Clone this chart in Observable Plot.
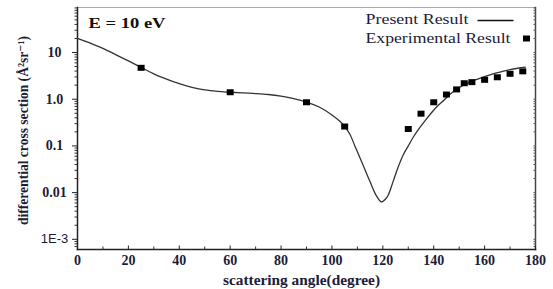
<!DOCTYPE html>
<html><head><meta charset="utf-8">
<script src="https://cdn.jsdelivr.net/npm/d3@7"></script>
<script src="https://cdn.jsdelivr.net/npm/@observablehq/plot@0.6"></script>
<style>body{margin:0;background:#fff}</style>
</head><body><div id="chart"></div>
<script>
// Present Result (theory curve)
const curveAngle = [0, 5, 10, 15, 20, 25, 30, 35, 40, 45, 50, 55, 60, 65, 70, 75, 80, 85, 90, 95, 100, 103, 105, 107, 109, 110.5, 112.3, 115, 117.5, 119.5, 121, 122.1, 124, 126, 128, 130, 132, 134.5, 137, 139.7, 142, 144, 146.3, 150, 153, 156, 159.3, 163, 166, 170, 173, 176];
const curveValue = [20, 15.8, 12.3, 9, 6.6, 4.8, 3.5, 2.7, 2.15, 1.8, 1.58, 1.47, 1.41, 1.36, 1.32, 1.26, 1.16, 1.03, 0.87, 0.68, 0.46, 0.34, 0.26, 0.18, 0.1, 0.065, 0.038, 0.017, 0.0085, 0.0063, 0.0072, 0.0088, 0.017, 0.035, 0.064, 0.1, 0.155, 0.245, 0.37, 0.56, 0.76, 0.95, 1.26, 1.78, 2.15, 2.55, 2.95, 3.45, 3.8, 4.3, 4.6, 4.85];
// Experimental Result
const expAngle = [25, 60, 90, 105, 130, 135, 140, 145, 149, 152, 155, 160, 165, 170, 175];
const expValue = [4.7, 1.41, 0.86, 0.26, 0.23, 0.49, 0.86, 1.26, 1.62, 2.2, 2.32, 2.6, 2.95, 3.5, 3.95];
// ticks and labels
const xTickValues = [0, 20, 40, 60, 80, 100, 120, 140, 160, 180];
const xMinorTicks = [10, 30, 50, 70, 90, 110, 130, 150, 170];
const yTickValues = [1e-3, 0.01, 0.1, 1, 10];
const yTickLabels = ["1E-3", "0.01", "0.1", "1.0", "10"];
const energyLabel = "E = 10 eV";
const legendLabels = ["Present Result", "Experimental Result"];
const xLabel = "scattering angle(degree)";
const yLabel = "differential cross section (Å²sr⁻¹)";

const yDomain = [6.05e-4, 92];
const yMinorTicks = [];
for (let e = -4; e <= 2; e++) for (let m = 2; m <= 9; m++) {
  const v = m * Math.pow(10, e);
  if (v >= yDomain[0] && v <= yDomain[1]) yMinorTicks.push(v);
}
const curveData = curveAngle.map((a, i) => ({a, v: curveValue[i]}));
const expData = expAngle.map((a, i) => ({a, v: expValue[i]}));

const ink = "#1c1c38";
const serif = "'Liberation Serif', 'DejaVu Serif', serif";
const lineSymbol = {draw(ctx) { ctx.moveTo(-18, 0); ctx.lineTo(18, 0); }};
const squareSymbol = {draw(ctx) { ctx.rect(-3.5, -3, 7, 6); }};
const blank = () => "";

const plot = Plot.plot({
  width: 553, height: 289,
  marginLeft: 77, marginRight: 18, marginTop: 7, marginBottom: 40,
  style: {fontFamily: serif, background: "#fff", color: ink, overflow: "visible"},
  x: {domain: [0, 180]},
  y: {type: "log", domain: yDomain},
  marks: [
    Plot.frame({anchor: "top", stroke: "#aaa", strokeWidth: 1}),
    Plot.frame({anchor: "right", stroke: "#444", strokeWidth: 1.5}),
    // y axis ticks
    Plot.axisY({ticks: yMinorTicks, tickSize: 2.5, tickFormat: blank, label: null, stroke: "#333"}),
    Plot.axisY({ticks: yTickValues, tickSize: 5, tickPadding: 18, textAnchor: "middle",
      tickFormat: (d) => yTickLabels[yTickValues.indexOf(d)], label: null,
      fontSize: 14, fontWeight: "bold", fill: ink, stroke: "#222"}),
    Plot.axisY({anchor: "right", ticks: yMinorTicks.concat(yTickValues), tickSize: -2.5, tickFormat: blank, label: null, stroke: "#555"}),
    // x axis ticks
    Plot.axisX({ticks: xMinorTicks, tickSize: -2.5, tickFormat: blank, label: null, stroke: "#333"}),
    Plot.axisX({ticks: xTickValues, tickSize: -3.5, tickFormat: blank, label: null, stroke: "#222"}),
    Plot.axisX({ticks: xTickValues, tickSize: 0, tickPadding: 6, label: null,
      fontSize: 14, fontWeight: "bold", fill: ink}),
    Plot.frame({anchor: "left", stroke: "#222", strokeWidth: 1.5}),
    Plot.frame({anchor: "bottom", stroke: "#222", strokeWidth: 1.5}),
    // data
    Plot.line(curveData, {x: "a", y: "v", stroke: "#333", strokeWidth: 1.3, curve: "catmull-rom"}),
    Plot.dot(expData, {x: "a", y: "v", symbol: squareSymbol, fill: "#000", stroke: "none"}),
    // annotations
    Plot.text([energyLabel], {frameAnchor: "top-left", dx: 11, dy: 16, textAnchor: "start", lineAnchor: "middle",
      fontSize: 15, fontWeight: "bold", fill: "#111"}),
    Plot.text([legendLabels[0]], {frameAnchor: "top-right", dx: -170, dy: 12, textAnchor: "start", lineAnchor: "middle",
      fontSize: 15, fill: ink}),
    Plot.text([legendLabels[1]], {frameAnchor: "top-right", dx: -170, dy: 31, textAnchor: "start", lineAnchor: "middle",
      fontSize: 15, fill: ink}),
    Plot.dot([0], {frameAnchor: "top-right", dx: -40, dy: 13, symbol: lineSymbol, stroke: "#111", strokeWidth: 1.3, fill: "none"}),
    Plot.dot([0], {frameAnchor: "top-right", dx: -9, dy: 31, symbol: squareSymbol, fill: "#000", stroke: "none"}),
    Plot.text([xLabel], {frameAnchor: "bottom", dx: -5, dy: 31, textAnchor: "middle", lineAnchor: "middle",
      fontSize: 14, fontWeight: "bold", fill: ink}),
    Plot.text([yLabel], {frameAnchor: "left", dx: -54, dy: 2, rotate: -90, textAnchor: "middle", lineAnchor: "middle",
      fontSize: 14, fontWeight: "bold", fill: ink})
  ]
});
document.getElementById("chart").appendChild(plot);

const svg = d3.select(plot);
function fit(txt, len) {
  svg.selectAll("text").filter(function() { return this.textContent === txt; })
    .attr("textLength", len).attr("lengthAdjust", "spacingAndGlyphs");
}
fit(yLabel, 189);
fit(xLabel, 157);
fit(energyLabel, 77);
fit(legendLabels[0], 103);
fit(legendLabels[1], 145);
svg.selectAll("text").filter(function() { return this.textContent === "1E-3"; })
  .style("font-family", "'Liberation Sans', sans-serif").style("font-weight", "normal").style("font-size", "13px");
</script>
</body></html>
